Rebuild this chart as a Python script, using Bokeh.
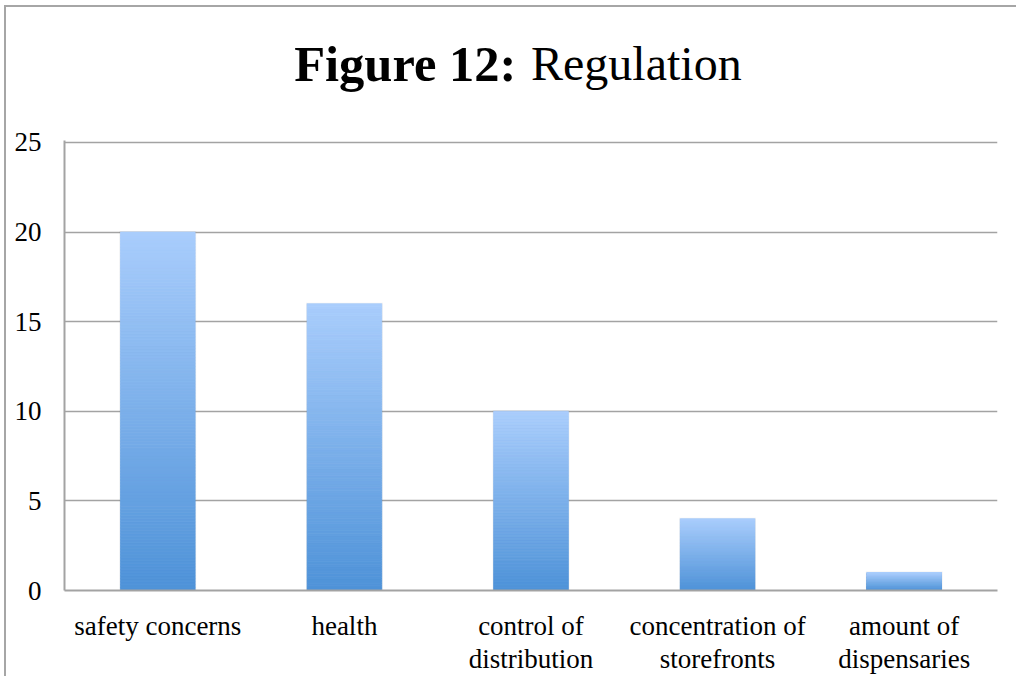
from bokeh.plotting import figure
from bokeh.models import Range1d, Label, ColumnDataSource
from bokeh.layouts import column
from bokeh.embed import file_html
from bokeh.resources import INLINE

categories = ["safety concerns", "health", "control of\ndistribution",
              "concentration of\nstorefronts", "amount of\ndispensaries"]
values = [20, 16, 10, 4, 1]
y_ticks = [0, 5, 10, 15, 20, 25]
title_bold = "Figure 12:"
title_rest = "Regulation"

FONT = "Liberation Serif"
GRAY = "#a3a3a3"
BORDER = "2px solid #a6a6a6"
W = 1012
TOP = 18
TH = 117

# ---- title strip ----
t = figure(width=W, height=TH, x_range=Range1d(0, W), y_range=Range1d(0, TH),
           output_backend="svg", toolbar_location=None, min_border=0,
           styles={"border-left": BORDER, "border-top": BORDER})
t.axis.visible = False
t.grid.grid_line_color = None
t.outline_line_color = None
t.add_layout(Label(x=490, y=61, text=title_bold, text_font=FONT, text_font_style="bold",
                   text_font_size="50.5px", text_align="right", text_baseline="alphabetic",
                   text_color="black"))
t.add_layout(Label(x=506, y=61, text=title_rest, text_font=FONT, text_font_style="normal",
                   text_font_size="48px", text_align="left", text_baseline="alphabetic",
                   text_color="black"))

# ---- chart ----
p = figure(x_range=categories, y_range=Range1d(0, 25.11), width=W, frame_height=450,
           output_backend="svg", toolbar_location=None,
           min_border_left=58, min_border_right=W - 58 - 933, min_border_top=TOP,
           min_border_bottom=80, styles={"border-left": BORDER})
p.outline_line_color = None

# faint shadow
p.vbar(x=categories, top=[v + 0.06 for v in values], bottom=0, width=0.412,
       fill_color="black", fill_alpha=0.06, line_color=None)

# gradient bars (light at top, darker at bottom)
top_c = (169, 205, 252)
bot_c = (78, 146, 216)
N = 120
xs, bots, tops, cols = [], [], [], []
for c, v in zip(categories, values):
    for k in range(N):
        f = (k + 0.5) / N
        r = round(bot_c[0] + (top_c[0] - bot_c[0]) * f)
        g = round(bot_c[1] + (top_c[1] - bot_c[1]) * f)
        b = round(bot_c[2] + (top_c[2] - bot_c[2]) * f)
        xs.append(c)
        bots.append(v * k / N)
        tops.append(v * (k + 1) / N)
        cols.append("#%02x%02x%02x" % (r, g, b))
src = ColumnDataSource(dict(x=xs, bottom=bots, top=tops, color=cols))
p.vbar(x="x", bottom="bottom", top="top", width=0.4, fill_color="color",
       line_color="color", line_width=0.8, source=src)

for ax in (p.xaxis, p.yaxis):
    ax.axis_line_color = GRAY
    ax.axis_line_width = 2
    ax.major_tick_line_color = None
    ax.minor_tick_line_color = None
    ax.major_label_text_font = FONT
    ax.major_label_text_font_size = "27px"
    ax.major_label_text_color = "black"
    ax.axis_label_standoff = 0
p.yaxis.ticker = y_ticks
p.yaxis.major_label_standoff = 17
p.xaxis.major_label_standoff = 14
p.xaxis.major_label_text_line_height = 1.1
p.xgrid.grid_line_color = None
p.ygrid.grid_line_color = GRAY
p.ygrid.grid_line_width = 1.6

layout = column(t, p, margin=(5, 0, 0, 4))

open("out.html", "w").write(file_html(layout, INLINE))
